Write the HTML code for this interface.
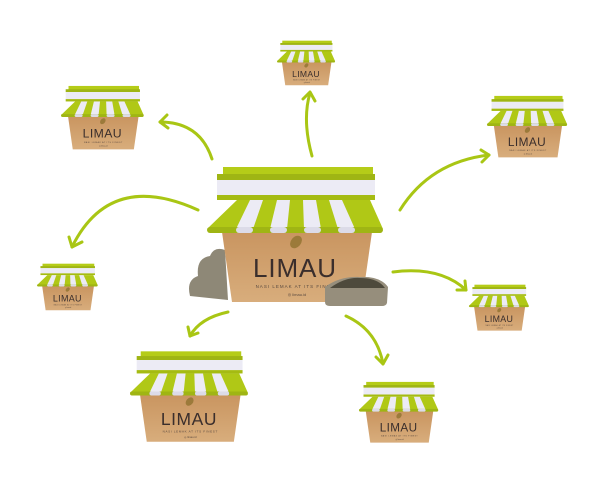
<!DOCTYPE html>
<html><head><meta charset="utf-8"><style>html,body{margin:0;padding:0;background:#fff;width:600px;height:480px;overflow:hidden}</style></head>
<body>
<svg width="600" height="480" viewBox="0 0 600 480" xmlns="http://www.w3.org/2000/svg">
<defs>
<linearGradient id="kr" x1="0" y1="0" x2="0" y2="1"><stop offset="0" stop-color="#c99560"/><stop offset="1" stop-color="#d8ad7c"/></linearGradient>
<g id="store">
  <polygon points="15,67 165,67 155,137 25,137" fill="url(#kr)"/>
  <rect x="16" y="2" width="150" height="8" fill="#b5cc18"/>
  <rect x="10" y="9" width="158" height="6" fill="#9fb514"/>
  <rect x="10" y="15" width="158" height="15" fill="#ecebf5"/>
  <rect x="10" y="30" width="158" height="5" fill="#a5bb12"/>
  <polygon points="30,35 163,35 176,64 0,64" fill="#b0c816"/>
  <polygon points="43,35 56,35 46,64 29,64" fill="#ecebf5"/>
  <polygon points="70,35 83,35 80,64 63,64" fill="#ecebf5"/>
  <polygon points="96,35 109,35 114,64 97,64" fill="#ecebf5"/>
  <polygon points="122,35 135,35 148,64 131,64" fill="#ecebf5"/>
  <rect x="0" y="62" width="176" height="6" rx="3" fill="#9fb514"/>
  <rect x="29" y="62" width="17" height="6" rx="3" fill="#dcdbe8"/>
  <rect x="63" y="62" width="17" height="6" rx="3" fill="#dcdbe8"/>
  <rect x="97" y="62" width="17" height="6" rx="3" fill="#dcdbe8"/>
  <rect x="131" y="62" width="17" height="6" rx="3" fill="#dcdbe8"/>
  <ellipse cx="89" cy="77" rx="5" ry="7" fill="#9c7a3a" transform="rotate(40 89 77)"/>
  <text x="46" y="112" font-family="Liberation Sans Narrow, Liberation Sans, sans-serif" font-size="26" letter-spacing="5" textLength="88" lengthAdjust="spacing" fill="#3a2e2c">LIMAU</text>
  <text x="90" y="123" font-family="Liberation Sans, sans-serif" font-size="4.5" letter-spacing="1" text-anchor="middle" fill="#5a4a40">NASI LEMAK AT ITS FINEST</text>
  <text x="90" y="131" font-family="Liberation Sans, sans-serif" font-size="4" text-anchor="middle" fill="#5a4a40">◎ limau.id</text>
</g>
</defs>
<path d="M190,296 Q186,280 198,276 Q196,258 210,256 Q214,246 225,250 L228,300 Z" fill="#8e8877"/>
<use href="#store" transform="translate(207,165)"/>
<path d="M325,287 Q340,276 360,277 Q380,276 388,287 L387,303 Q386,306 382,306 L330,306 Q325,306 325,302 Z" fill="#968e7c"/>
<path d="M330,288 Q345,277 360,278 Q378,278 385,288 Z" fill="#4e4a3c"/>
<use href="#store" transform="translate(277,40) scale(0.33)"/>
<use href="#store" transform="translate(61,85) scale(0.47)"/>
<use href="#store" transform="translate(487,95) scale(0.455)"/>
<use href="#store" transform="translate(37,263) scale(0.345)"/>
<use href="#store" transform="translate(469,284) scale(0.34)"/>
<use href="#store" transform="translate(130,350) scale(0.67)"/>
<use href="#store" transform="translate(359,381) scale(0.45)"/>
<g fill="none" stroke="#a9c614" stroke-width="3" stroke-linecap="round" stroke-linejoin="round">
  <path d="M212,159 Q200,122 160,122"/><path d="M167,115 L160,122 L168,128"/>
  <path d="M312,156 Q302,120 310,93"/><path d="M303,99 L310,92 L315,101"/>
  <path d="M400,210 Q430,162 489,155"/><path d="M481,150 L489,155 L482,162"/>
  <path d="M198,210 Q110,170 72,247"/><path d="M69,237 L72,247 L82,242"/>
  <path d="M393,272 Q440,266 466,290"/><path d="M457,290 L466,290 L465,281"/>
  <path d="M228,312 Q200,318 190,336"/><path d="M188,327 L190,336 L198,333"/>
  <path d="M346,316 Q377,330 383,364"/><path d="M376,357 L383,364 L388,355"/>
</g>
</svg>
</body></html>
